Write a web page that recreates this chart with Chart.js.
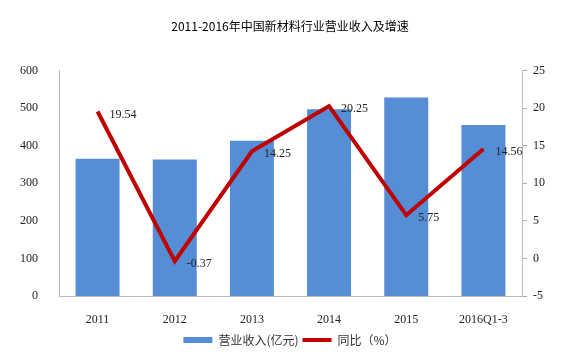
<!DOCTYPE html>
<html>
<head>
<meta charset="utf-8">
<script src="https://cdn.jsdelivr.net/npm/chart.js@4/dist/chart.umd.min.js"></script>
<style>
  html, body { margin: 0; padding: 0; background: #fff; }
  #wrap { width: 580px; height: 358px; }
</style>
</head>
<body>
<div id="wrap"><canvas id="chart"></canvas></div>
<script>
// data
const years = ['2011', '2012', '2013', '2014', '2015', '2016Q1-3'];
const revenue = [365, 363, 413, 497, 528, 455];
const growth = [19.54, -0.37, 14.25, 20.25, 5.75, 14.56];
const growthLabels = ['19.54', '-0.37', '14.25', '20.25', '5.75', '14.56'];

const serif = "'Liberation Serif', 'Times New Roman', serif";
const cjk = "'Noto Sans CJK SC', sans-serif";

// draw the value beside each point of the line
const lineLabels = {
    id: 'lineLabels',
    afterDatasetsDraw(chart) {
        const ctx = chart.ctx;
        const meta = chart.getDatasetMeta(1);
        ctx.save();
        ctx.font = '12px ' + serif;
        ctx.fillStyle = '#222';
        ctx.textAlign = 'left';
        ctx.textBaseline = 'middle';
        meta.data.forEach((pt, i) => {
            ctx.fillText(growthLabels[i], pt.x + 12, pt.y + 3);
        });
        ctx.restore();
    }
};

const config = {
    data: {
        labels: years,
        datasets: [
            {
                type: 'bar',
                label: '营业收入(亿元)',
                data: revenue,
                backgroundColor: '#558ED5',
                borderWidth: 0,
                categoryPercentage: 1,
                barPercentage: 0.57,
                pointStyle: 'rect',
                yAxisID: 'y',
                order: 2
            },
            {
                type: 'line',
                label: '同比（%）',
                data: growth,
                borderColor: '#C00000',
                backgroundColor: '#C00000',
                borderWidth: 4,
                pointRadius: 0,
                pointStyle: 'line',
                tension: 0,
                yAxisID: 'y1',
                order: 1
            }
        ]
    },
    options: {
        responsive: true,
        maintainAspectRatio: false,
        animation: false,
        layout: { padding: { left: 0, right: 0, top: 0, bottom: 2 } },
        plugins: {
            title: {
                display: true,
                text: '2011-2016年中国新材料行业营业收入及增速',
                font: { family: cjk, size: 12, weight: 'normal' },
                color: '#000',
                padding: { top: 19, bottom: 37 }
            },
            legend: {
                position: 'bottom',
                labels: {
                    font: { family: cjk, size: 12 },
                    color: '#333',
                    usePointStyle: true,
                    pointStyleWidth: 29,
                    boxHeight: 6,
                    padding: 4,
                    sort: (a, b) => a.datasetIndex - b.datasetIndex
                }
            },
            tooltip: { enabled: false }
        },
        scales: {
            x: {
                grid: { display: false },
                border: { display: true, color: '#bbb' },
                ticks: { font: { family: serif, size: 12 }, color: '#222', padding: 9, maxRotation: 0 },
                afterFit(scale) { scale.height = 34; }
            },
            y: {
                position: 'left',
                min: 0,
                max: 600,
                grid: { display: false },
                border: { display: true, color: '#bbb' },
                ticks: { stepSize: 100, font: { family: serif, size: 12 }, color: '#222', padding: 13 },
                afterFit(scale) { scale.width = 59; }
            },
            y1: {
                position: 'right',
                min: -5,
                max: 25,
                grid: { drawOnChartArea: false, drawTicks: true, tickLength: 5, color: '#aaa' },
                border: { display: true, color: '#bbb' },
                ticks: { stepSize: 5, font: { family: serif, size: 12 }, color: '#222', padding: 6 },
                afterFit(scale) { scale.width = 58; }
            }
        }
    },
    plugins: [lineLabels]
};

new Chart(document.getElementById('chart'), config);
</script>
</body>
</html>
